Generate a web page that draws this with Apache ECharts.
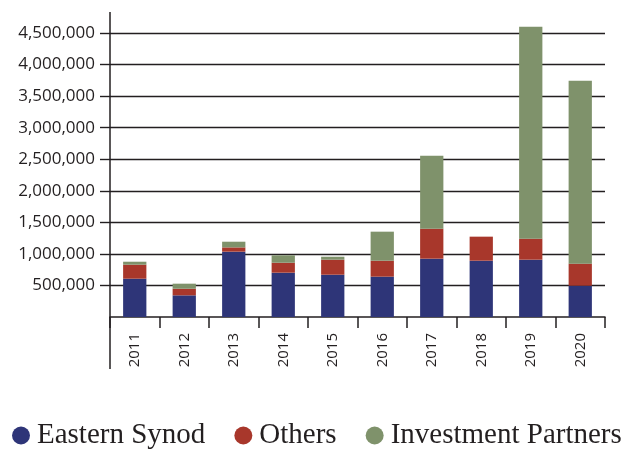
<!DOCTYPE html>
<html>
<head>
<meta charset="utf-8">
<script src="https://cdn.jsdelivr.net/npm/echarts@6/dist/echarts.min.js"></script>
<style>
  html, body { margin: 0; padding: 0; background: #fff; }
  #chart { width: 629px; height: 449px; }
</style>
</head>
<body>
<div id="chart"></div>
<script>
  'use strict'

  var years = ['2011', '2012', '2013', '2014', '2015', '2016', '2017', '2018', '2019', '2020'];
  var easternSynod = [607000, 343000, 1035000, 702000, 670000, 639000, 924000, 892000, 908000, 496000];
  var others = [222000, 105000, 68000, 158000, 238000, 253000, 475000, 381000, 333000, 349000];
  var investmentPartners = [47000, 80000, 90000, 117000, 47000, 460000, 1157000, 0, 3359000, 2900000];
  var yTicks = [0, 500000, 1000000, 1500000, 2000000, 2500000, 3000000, 3500000, 4000000, 4500000];

  var ink = '#231f20';
  var gridLeft = 110, gridRight = 24, gridTop = 33, gridBottom = 132;

  function barSeries(name, data) {
    return {
      name: name,
      type: 'bar',
      stack: 'total',
      data: data,
      barWidth: '47%',
      clip: false
    };
  }

  var option = {
    animation: false,
    color: ['#2e3578', '#a8372b', '#7f926b'],
    grid: { left: gridLeft, right: gridRight, top: gridTop, bottom: gridBottom },
    legend: {
      left: 12,
      top: 421,
      padding: 0,
      icon: 'circle',
      itemWidth: 18,
      itemHeight: 18,
      itemGap: 29,
      textStyle: { fontFamily: 'Liberation Serif', fontSize: 29, color: ink, padding: [0, 0, 0, 2] }
    },
    xAxis: {
      type: 'category',
      data: years,
      axisLine: { lineStyle: { color: ink, width: 1.5 } },
      axisTick: { show: true, length: 11, interval: 0, lineStyle: { color: ink, width: 1.5 } },
      axisLabel: {
        rotate: 90,
        margin: 16,
        interval: 0,
        fontFamily: 'Open Sans',
        fontSize: 15,
        color: ink
      }
    },
    yAxis: {
      type: 'value',
      min: yTicks[0],
      max: yTicks[yTicks.length - 1],
      interval: yTicks[1] - yTicks[0],
      axisLine: { show: false },
      axisTick: {
        show: true,
        length: 10,
        customValues: yTicks.slice(1),
        lineStyle: { color: ink, width: 1.4 }
      },
      splitLine: { lineStyle: { color: ink, width: 1.4 } },
      axisLabel: {
        margin: 15,
        customValues: yTicks.slice(1),
        fontFamily: 'Open Sans',
        fontSize: 17,
        color: ink,
        formatter: function (v) { return v.toLocaleString('en-US'); }
      }
    },
    graphic: [{
      type: 'line',
      shape: { x1: gridLeft, y1: 12, x2: gridLeft, y2: 369 },
      style: { stroke: ink, lineWidth: 1.5 },
      z: 10
    }],
    series: [
      barSeries('Eastern Synod', easternSynod),
      barSeries('Others', others),
      barSeries('Investment Partners', investmentPartners)
    ]
  };

  var chart = echarts.init(document.getElementById('chart'));
  chart.setOption(option);
</script>
</body>
</html>
